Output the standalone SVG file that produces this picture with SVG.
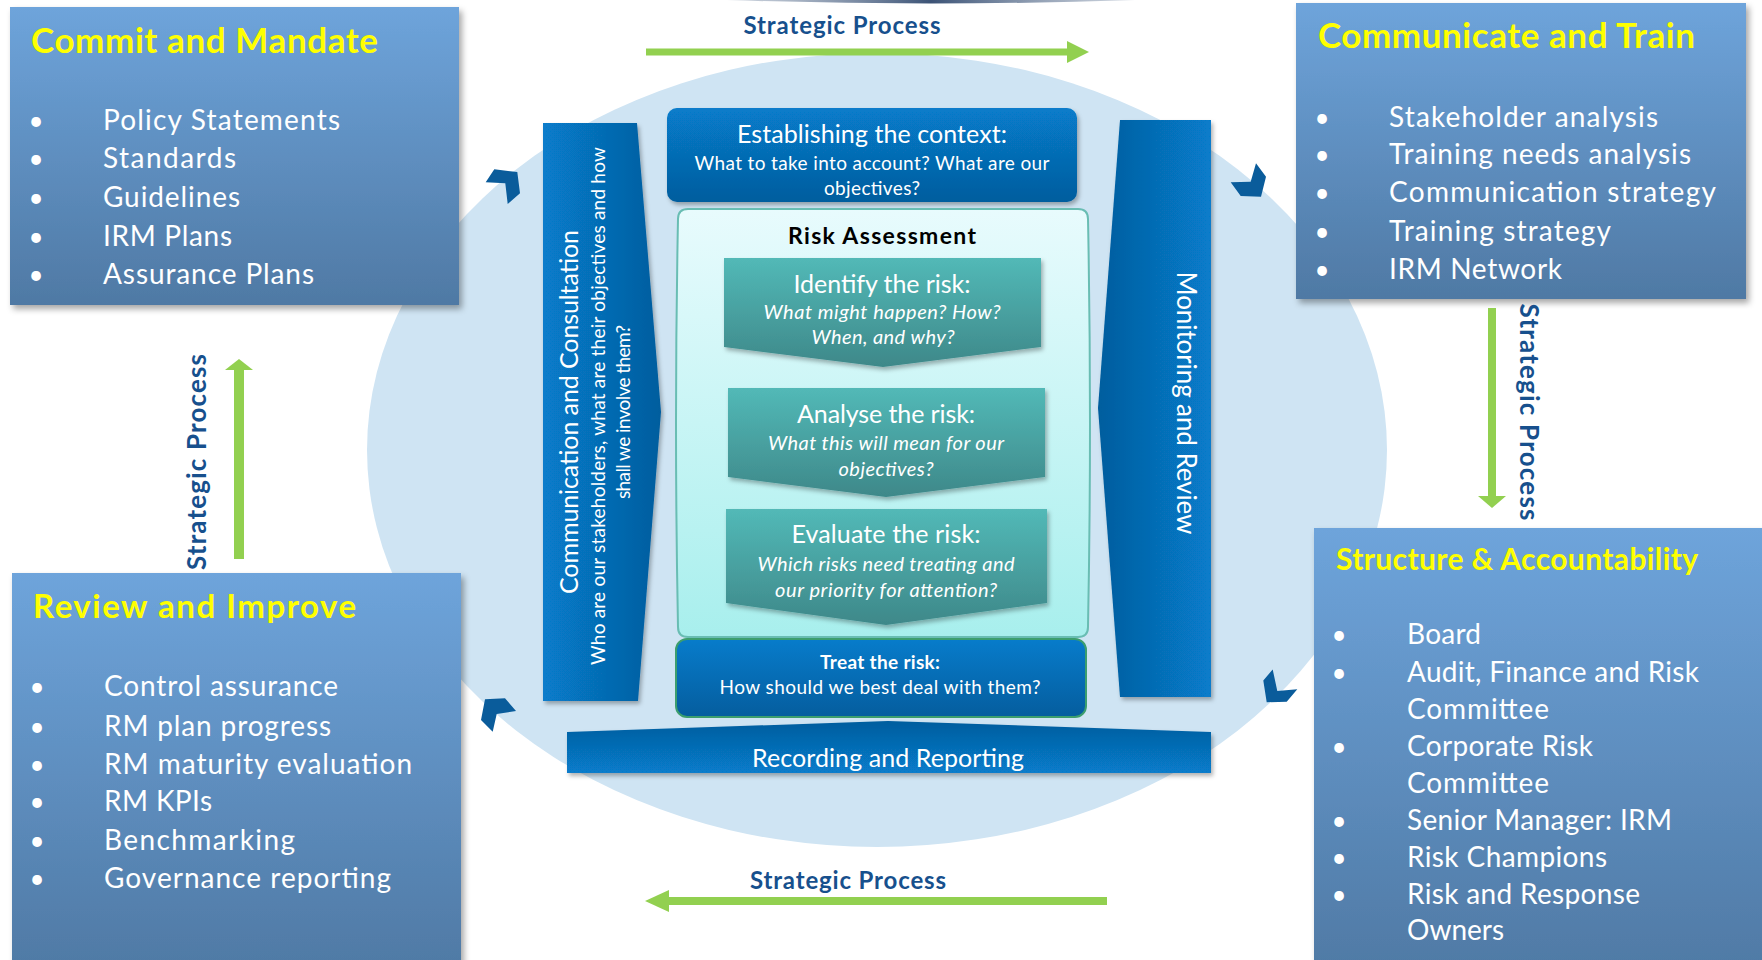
<svg xmlns="http://www.w3.org/2000/svg" width="1762" height="960" viewBox="0 0 1762 960">
  <defs>
    <linearGradient id="boxGrad" x1="0" y1="0" x2="0" y2="1">
      <stop offset="0" stop-color="#6ea4db"/>
      <stop offset="1" stop-color="#4f79a4"/>
    </linearGradient>
    <linearGradient id="blueV" x1="0" y1="0" x2="0" y2="1">
      <stop offset="0" stop-color="#077ccb"/>
      <stop offset="1" stop-color="#055d9e"/>
    </linearGradient>
    <linearGradient id="blueUp" x1="0" y1="0" x2="0" y2="1">
      <stop offset="0" stop-color="#055d9e"/>
      <stop offset="1" stop-color="#077ccb"/>
    </linearGradient>
    <linearGradient id="blueLR" x1="0" y1="0" x2="1" y2="0">
      <stop offset="0" stop-color="#077ccb"/>
      <stop offset="1" stop-color="#055d9e"/>
    </linearGradient>
    <linearGradient id="blueRL" x1="0" y1="0" x2="1" y2="0">
      <stop offset="0" stop-color="#055d9e"/>
      <stop offset="1" stop-color="#077ccb"/>
    </linearGradient>
    <linearGradient id="tealGrad" x1="0" y1="0" x2="0" y2="1">
      <stop offset="0" stop-color="#52b9b7"/>
      <stop offset="1" stop-color="#3e8889"/>
    </linearGradient>
    <linearGradient id="aquaGrad" x1="0" y1="0" x2="0" y2="1">
      <stop offset="0" stop-color="#e8fbfd"/>
      <stop offset="1" stop-color="#a8efed"/>
    </linearGradient>
    <linearGradient id="capGrad" x1="0" y1="0" x2="1" y2="0">
      <stop offset="0" stop-color="#6a7f9c" stop-opacity="0.3"/>
      <stop offset="0.5" stop-color="#3c5376"/>
      <stop offset="1" stop-color="#6a7f9c" stop-opacity="0.3"/>
    </linearGradient>
    <filter id="shadow" x="-10%" y="-10%" width="125%" height="125%">
      <feDropShadow dx="3" dy="4" stdDeviation="3" flood-color="#000" flood-opacity="0.35"/>
    </filter>
    <filter id="softShadow" x="-10%" y="-10%" width="125%" height="125%">
      <feDropShadow dx="2" dy="3" stdDeviation="2" flood-color="#000" flood-opacity="0.3"/>
    </filter>
  </defs>
  <style>
    text { font-family: Lato, "Open Sans", "Liberation Sans", sans-serif; }
    .title { font-weight: bold; fill: #ffff00; }
    .item { fill: #ffffff; font-size: 28px; }
    .bul { fill: #ffffff; font-size: 26px; text-anchor: middle; }
    .sp { fill: #17508d; font-weight: bold; text-anchor: middle; }
    .w { fill: #ffffff; text-anchor: middle; }
    .it { font-style: italic; font-size: 20px; }
    .box { fill: url(#boxGrad); filter: url(#shadow); }
    .green { fill: #92d050; }
    .chev { fill: #0a5c9b; }
    .step { fill: url(#tealGrad); filter: url(#softShadow); }
  </style>

  <rect width="1762" height="960" fill="#ffffff"/>

  <!-- background disc and top rim -->
  <ellipse cx="877" cy="450" rx="510" ry="397" fill="#cfe4f3"/>
  <path d="M727,0 Q930,7 1135,0 Z" fill="url(#capGrad)"/>

  <!-- outer framework boxes -->
  <g id="commit-mandate">
    <rect class="box" x="10" y="7" width="449" height="298"/>
    <text class="title" x="31" y="53" font-size="35" textLength="347">Commit and Mandate</text>
    <text class="bul" x="36" y="130">•</text>
    <text class="bul" x="36" y="168">•</text>
    <text class="bul" x="36" y="207">•</text>
    <text class="bul" x="36" y="246">•</text>
    <text class="bul" x="36" y="284">•</text>
    <text class="item" x="103" y="130" textLength="237">Policy Statements</text>
    <text class="item" x="103" y="168" textLength="133">Standards</text>
    <text class="item" x="103" y="207" textLength="137">Guidelines</text>
    <text class="item" x="103" y="246" textLength="129">IRM Plans</text>
    <text class="item" x="103" y="284" textLength="211">Assurance Plans</text>
  </g>

  <g id="communicate-train">
    <rect class="box" x="1296" y="3" width="450" height="296"/>
    <text class="title" x="1318" y="48" font-size="35" textLength="377">Communicate and Train</text>
    <text class="bul" x="1322" y="127">•</text>
    <text class="bul" x="1322" y="164">•</text>
    <text class="bul" x="1322" y="202">•</text>
    <text class="bul" x="1322" y="241">•</text>
    <text class="bul" x="1322" y="279">•</text>
    <text class="item" x="1389" y="127" textLength="269">Stakeholder analysis</text>
    <text class="item" x="1389" y="164" textLength="302">Training needs analysis</text>
    <text class="item" x="1389" y="202" textLength="327">Communication strategy</text>
    <text class="item" x="1389" y="241" textLength="222">Training strategy</text>
    <text class="item" x="1389" y="279" textLength="173">IRM Network</text>
  </g>

  <g id="review-improve">
    <rect class="box" x="12" y="573" width="449" height="400"/>
    <text class="title" x="33" y="618" font-size="33" textLength="323">Review and Improve</text>
    <text class="bul" x="37" y="696">•</text>
    <text class="bul" x="37" y="736">•</text>
    <text class="bul" x="37" y="774">•</text>
    <text class="bul" x="37" y="811">•</text>
    <text class="bul" x="37" y="850">•</text>
    <text class="bul" x="37" y="888">•</text>
    <text class="item" x="104" y="696" textLength="234">Control assurance</text>
    <text class="item" x="104" y="736" textLength="227">RM plan progress</text>
    <text class="item" x="104" y="774" textLength="308">RM maturity evaluation</text>
    <text class="item" x="104" y="811" textLength="108">RM KPIs</text>
    <text class="item" x="104" y="850" textLength="191">Benchmarking</text>
    <text class="item" x="104" y="888" textLength="287">Governance reporting</text>
  </g>

  <g id="structure-accountability">
    <rect class="box" x="1314" y="528" width="460" height="450"/>
    <text class="title" x="1336" y="570" font-size="30" textLength="362">Structure &amp; Accountability</text>
    <text class="bul" x="1339" y="644">•</text>
    <text class="bul" x="1339" y="682">•</text>
    <text class="bul" x="1339" y="756">•</text>
    <text class="bul" x="1339" y="830">•</text>
    <text class="bul" x="1339" y="867">•</text>
    <text class="bul" x="1339" y="904">•</text>
    <text class="item" x="1407" y="644" font-size="27" textLength="74">Board</text>
    <text class="item" x="1407" y="682" font-size="27" textLength="292">Audit, Finance and Risk</text>
    <text class="item" x="1407" y="719" font-size="27" textLength="142">Committee</text>
    <text class="item" x="1407" y="756" font-size="27" textLength="186">Corporate Risk</text>
    <text class="item" x="1407" y="793" font-size="27" textLength="142">Committee</text>
    <text class="item" x="1407" y="830" font-size="27" textLength="265">Senior Manager: IRM</text>
    <text class="item" x="1407" y="867" font-size="27" textLength="200">Risk Champions</text>
    <text class="item" x="1407" y="904" font-size="27" textLength="233">Risk and Response</text>
    <text class="item" x="1407" y="940" font-size="27" textLength="97">Owners</text>
  </g>

  <!-- central risk management process -->
  <g id="communication-consultation">
    <path d="M543,123 H637 L661,412 L638,701 H543 Z" fill="url(#blueLR)" filter="url(#softShadow)"/>
    <text class="w" transform="translate(578,412) rotate(-90)" font-size="25" textLength="364">Communication and Consultation</text>
    <text class="w" transform="translate(605,406) rotate(-90)" font-size="19" textLength="518">Who are our stakeholders, what are their objectives and how</text>
    <text class="w" transform="translate(630,412) rotate(-90)" font-size="19" textLength="174">shall we involve them?</text>
  </g>

  <g id="monitoring-review">
    <path d="M1120,120 H1211 V697 H1120 L1098,408 Z" fill="url(#blueRL)" filter="url(#softShadow)"/>
    <text class="w" transform="translate(1177,403) rotate(90)" font-size="26" textLength="263">Monitoring and Review</text>
  </g>

  <g id="establishing-context">
    <rect x="667" y="108" width="410" height="94" rx="10" fill="url(#blueV)" filter="url(#softShadow)"/>
    <text class="w" x="872" y="143" font-size="25" textLength="270">Establishing the context:</text>
    <text class="w" x="872" y="170" font-size="19" textLength="355">What to take into account? What are our</text>
    <text class="w" x="872" y="195" font-size="19" textLength="96">objectives?</text>
  </g>

  <g id="risk-assessment">
    <path d="M688,209 H1078 Q1088,209 1088,219 Q1092,423 1088,627 Q1088,637 1078,637 H688 Q678,637 678,627 Q674,423 678,219 Q678,209 688,209 Z" fill="url(#aquaGrad)" stroke="#69bdb3" stroke-width="2"/>
    <text x="882" y="244" font-size="23" font-weight="bold" fill="#000000" text-anchor="middle" textLength="188">Risk Assessment</text>
  </g>

  <g id="identify-risk">
    <path class="step" d="M724,258 H1041 V347 L883,367 L724,347 Z"/>
    <text class="w" x="882" y="293" font-size="25" textLength="177">Identify the risk:</text>
    <text class="w it" x="882" y="319" textLength="237">What might happen? How?</text>
    <text class="w it" x="883" y="344" textLength="143">When, and why?</text>
  </g>

  <g id="analyse-risk">
    <path class="step" d="M728,388 H1045 V477 L886,497 L728,477 Z"/>
    <text class="w" x="886" y="423" font-size="25" textLength="178">Analyse the risk:</text>
    <text class="w it" x="886" y="450" textLength="236">What this will mean for our</text>
    <text class="w it" x="886" y="476" textLength="95">objectives?</text>
  </g>

  <g id="evaluate-risk">
    <path class="step" d="M726,509 H1047 V603 L886,625 L726,603 Z"/>
    <text class="w" x="886" y="543" font-size="25" textLength="189">Evaluate the risk:</text>
    <text class="w it" x="886" y="571" textLength="257">Which risks need treating and</text>
    <text class="w it" x="886" y="597" textLength="222">our priority for attention?</text>
  </g>

  <g id="treat-risk">
    <rect x="676" y="639" width="410" height="78" rx="11" fill="url(#blueV)" stroke="#3c9e6e" stroke-width="2"/>
    <text class="w" x="880" y="669" font-size="19" font-weight="bold" textLength="120">Treat the risk:</text>
    <text class="w" x="880" y="694" font-size="19" textLength="321">How should we best deal with them?</text>
  </g>

  <g id="recording-reporting">
    <path d="M567,732 L888,721 L1211,732 V773 H567 Z" fill="url(#blueUp)" filter="url(#softShadow)"/>
    <text class="w" x="888" y="767" font-size="25" textLength="272">Recording and Reporting</text>
  </g>

  <!-- connectors: strategic process arrows and cycle chevrons -->
  <g id="connectors">
    <rect class="green" x="646" y="48.5" width="421" height="7"/>
    <polygon class="green" points="1067,41 1089,52 1067,63"/>
    <text class="sp" x="842" y="34" font-size="24" textLength="197">Strategic Process</text>

    <rect class="green" x="1488" y="308" width="8" height="188"/>
    <polygon class="green" points="1478,496 1492,508 1506,496"/>
    <text class="sp" transform="translate(1520,412) rotate(90)" font-size="26" textLength="217">Strategic Process</text>

    <rect class="green" x="669" y="897" width="438" height="8"/>
    <polygon class="green" points="669,890 645,901 669,912"/>
    <text class="sp" x="848" y="889" font-size="24" textLength="196">Strategic Process</text>

    <rect class="green" x="234" y="370" width="10" height="189"/>
    <polygon class="green" points="225,370 239,359 253,370"/>
    <text class="sp" transform="translate(206,462) rotate(-90)" font-size="26" textLength="216">Strategic Process</text>

    <polygon class="chev" points="485.7,182.3 494.3,169.3 517.3,172 520,193.3 507.7,204 505.3,183.3"/>
    <polygon class="chev" points="1230.7,182.3 1240.7,196 1261,196.7 1266,176.7 1256,163.3 1250.7,181.7"/>
    <polygon class="chev" points="1272.7,669.4 1263.3,680.5 1266.7,702.2 1286.7,701.8 1297.3,689.2 1277.3,691.1"/>
    <polygon class="chev" points="485,699.3 505,698.3 516,711 496.7,714 492.7,731.7 481,720"/>
  </g>
</svg>
